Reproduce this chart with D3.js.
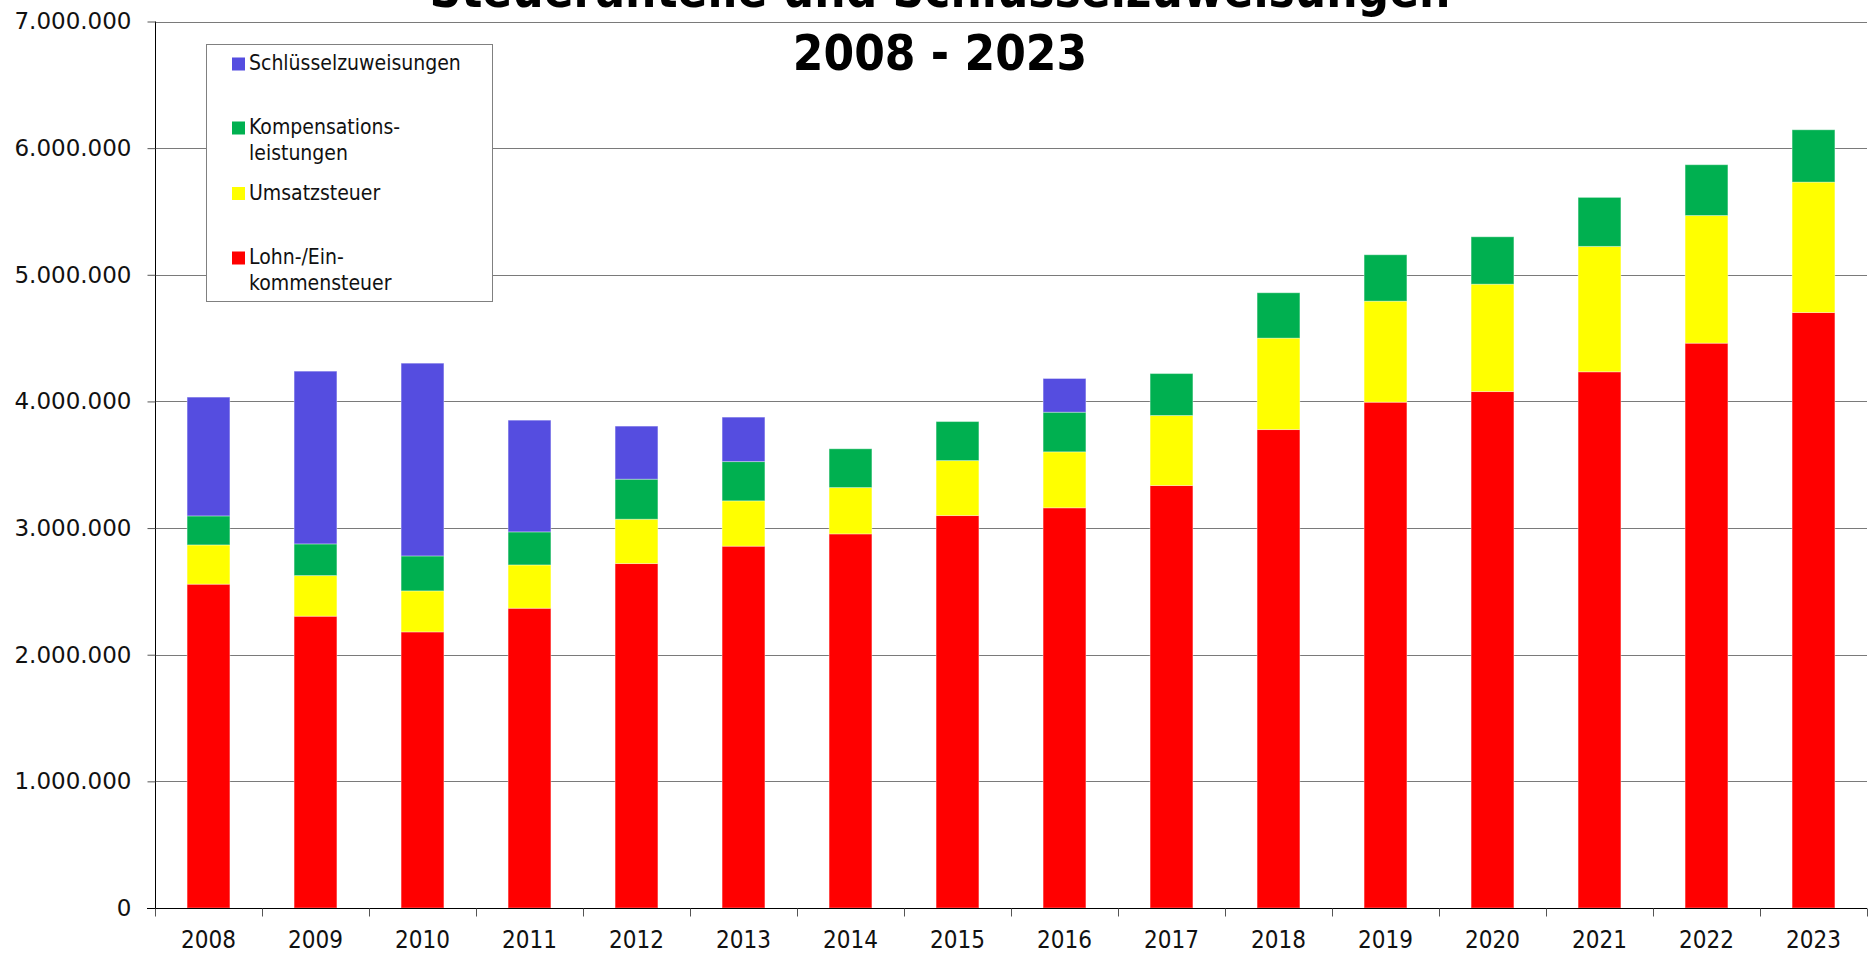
<!DOCTYPE html>
<html>
<head>
<meta charset="utf-8">
<script src="https://cdn.jsdelivr.net/npm/d3@7"></script>
<style>
  html, body { margin: 0; padding: 0; background: #fff; }
  svg { display: block; }
</style>
</head>
<body>
<svg id="chart" width="1869" height="957"></svg>
<script>
// ---- data ----
const years = ["2008","2009","2010","2011","2012","2013","2014","2015","2016","2017","2018","2019","2020","2021","2022","2023"];
const lohnEinkommensteuer = [2557000, 2304000, 2180000, 2367000, 2720000, 2857000, 2954000, 3099000, 3160000, 3336000, 3778000, 3994000, 4078000, 4234000, 4460000, 4702000];
const umsatzsteuer        = [310000, 321000, 324000, 342000, 350000, 358000, 366000, 434000, 442000, 553000, 722000, 798000, 848000, 990000, 1008000, 1030000];
const kompensation        = [229000, 250000, 276000, 261000, 316000, 310000, 306000, 308000, 313000, 331000, 358000, 366000, 374000, 387000, 401000, 413000];
const schluessel          = [938000, 1364000, 1522000, 882000, 419000, 351000, 0, 0, 266000, 0, 0, 0, 0, 0, 0, 0];
const yTicks = [0, 1000000, 2000000, 3000000, 4000000, 5000000, 6000000, 7000000];
const titleLines = ["Steueranteile und Schlüsselzuweisungen", "2008 - 2023"];

const seriesKeys = ["lohn", "umsatz", "komp", "schl"];
const seriesNames = {
  schl: ["Schlüsselzuweisungen"],
  komp: ["Kompensations-", "leistungen"],
  umsatz: ["Umsatzsteuer"],
  lohn: ["Lohn-/Ein-", "kommensteuer"]
};
const colors = { lohn: "#FF0000", umsatz: "#FFFF00", komp: "#00B050", schl: "#554DE0" };

const table = years.map((y, i) => ({
  year: y,
  lohn: lohnEinkommensteuer[i],
  umsatz: umsatzsteuer[i],
  komp: kompensation[i],
  schl: schluessel[i]
}));

// ---- layout ----
const svg = d3.select("#chart");
const x0 = 155, x1 = 1867, yTop = 21.5, yBot = 908;

const x = d3.scaleBand().domain(years).range([x0, x1]).paddingInner(0.6).paddingOuter(0.3);
const y = d3.scaleLinear().domain([0, 7000000]).range([yBot, yTop]);

const de = d3.formatLocale({ decimal: ",", thousands: ".", grouping: [3], currency: ["", " €"] });
const fmt = de.format(",.0f");

// gridlines
svg.append("g")
  .selectAll("line")
  .data(yTicks.filter(d => d > 0))
  .join("line")
  .attr("x1", x0).attr("x2", x1)
  .attr("y1", d => Math.round(y(d)) + 0.5).attr("y2", d => Math.round(y(d)) + 0.5)
  .attr("stroke", "#7a7a7a").attr("stroke-width", 1);

// stacked bars
const stack = d3.stack().keys(seriesKeys);
const stacked = stack(table);
svg.append("g")
  .selectAll("g")
  .data(stacked)
  .join("g")
  .attr("fill", d => colors[d.key])
  .selectAll("rect")
  .data(d => d.filter(s => s[1] - s[0] > 0))
  .join("rect")
  .attr("x", d => x(d.data.year))
  .attr("width", x.bandwidth())
  .attr("y", d => y(d[1]))
  .attr("height", d => y(d[0]) - y(d[1]))
  .attr("stroke", "#ffffff").attr("stroke-opacity", 0.35).attr("stroke-width", 1);

// y axis
const yAxis = d3.axisLeft(y).tickValues(yTicks).tickFormat(fmt).tickSize(8).tickPadding(16);
const gy = svg.append("g").attr("transform", `translate(${x0 + 0.5},0)`).call(yAxis);
gy.select(".domain").attr("stroke", "#000").attr("d", `M0,${yTop}V${yBot}`);
gy.selectAll(".tick line").attr("stroke", "#555");
gy.selectAll(".tick text")
  .attr("font-family", "'DejaVu Sans', Verdana, sans-serif")
  .attr("font-size", 23)
  .attr("fill", "#111");

// x axis
const xAxis = d3.axisBottom(x).tickSize(0).tickPadding(22);
const gx = svg.append("g").attr("transform", `translate(0,${yBot + 0.5})`).call(xAxis);
gx.select(".domain").attr("stroke", "#000").attr("d", `M${x0 - 8},0H${x1}`);
gx.selectAll(".tick text")
  .attr("font-family", "'DejaVu Sans Condensed', 'DejaVu Sans', sans-serif")
  .attr("font-stretch", "condensed")
  .attr("font-size", 24)
  .attr("fill", "#111");
// boundary ticks between categories
gx.append("g")
  .selectAll("line")
  .data(d3.range(years.length + 1))
  .join("line")
  .attr("x1", i => Math.round(x0 + i * x.step()) + 0.5)
  .attr("x2", i => Math.round(x0 + i * x.step()) + 0.5)
  .attr("y1", 0).attr("y2", 8)
  .attr("stroke", "#555");

// title
const title = svg.append("text")
  .attr("text-anchor", "middle")
  .attr("font-family", "'DejaVu Sans Condensed', 'DejaVu Sans', sans-serif")
  .attr("font-stretch", "condensed")
  .attr("font-weight", "bold")
  .attr("font-size", 49)
  .attr("fill", "#000");
title.selectAll("tspan")
  .data(titleLines)
  .join("tspan")
  .attr("x", 940)
  .attr("y", (d, i) => 7 + i * 63)
  .text(d => d);

// legend
const lg = svg.append("g");
lg.append("rect")
  .attr("x", 206.5).attr("y", 44.5).attr("width", 286).attr("height", 257)
  .attr("fill", "#fff").attr("stroke", "#808080").attr("stroke-width", 1);
const legendOrder = ["schl", "komp", "umsatz", "lohn"];
const legendBase = [70, 134, 199.5, 264];
legendOrder.forEach((k, i) => {
  const b = legendBase[i];
  lg.append("rect")
    .attr("x", 232).attr("y", b - 12.5).attr("width", 13).attr("height", 13)
    .attr("fill", colors[k]);
  const t = lg.append("text")
    .attr("font-family", "'DejaVu Sans Condensed', 'DejaVu Sans', sans-serif")
    .attr("font-stretch", "condensed")
    .attr("font-size", 21)
    .attr("fill", "#111");
  t.selectAll("tspan")
    .data(seriesNames[k])
    .join("tspan")
    .attr("x", 249)
    .attr("y", (d, j) => b + j * 26)
    .text(d => d);
});
</script>
</body>
</html>
